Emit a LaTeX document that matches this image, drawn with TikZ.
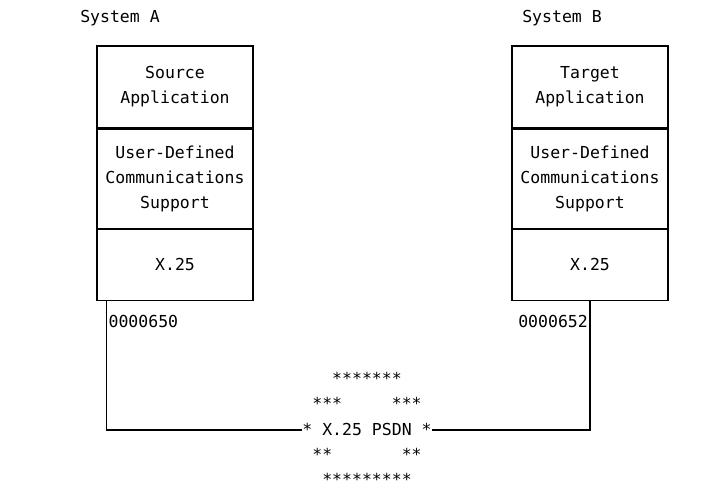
\documentclass[tikz,border=0pt]{standalone}
\usepackage{fontspec}
\setmonofont{DejaVu Sans Mono}
\usetikzlibrary{positioning}
\tikzstyle{layer}=[draw,line width=1.2pt,minimum width=156pt,align=center,inner sep=0pt]
\tikzstyle{sysname}=[inner sep=0pt]
\tikzstyle{addr}=[inner sep=2pt]
\tikzstyle{link}=[line width=1.1pt]
\tikzstyle{cloud}=[inner sep=0pt,text height=12pt,text depth=2pt,node distance=11pt]
\newcommand{\bl}{\hphantom{*}}

\begin{document}
\begin{tikzpicture}[x=1pt,y=-1pt,font=\ttfamily\fontsize{16.5}{25}\selectfont]
\useasboundingbox (0,0) rectangle (703,490);
% system A
\node[layer,minimum height=82pt] (srcA) at (175,87) {Source\\Application};
\node[layer,minimum height=99pt,below=0pt of srcA] (udcA) {User-Defined\\Communications\\Support};
\node[layer,minimum height=71pt,below=0pt of udcA] (xA) {X.25};
\node[sysname] (sysA) at (120,18) {System A};
% system B
\node[layer,minimum height=82pt] (tgtB) at (590,87) {Target\\Application};
\node[layer,minimum height=99pt,below=0pt of tgtB] (udcB) {User-Defined\\Communications\\Support};
\node[layer,minimum height=71pt,below=0pt of udcB] (xB) {X.25};
\node[sysname] (sysB) at (562,18) {System B};
% the network
\node[cloud] (psdn) at (367,430) {* X.25 PSDN *};
\node[cloud,above=of psdn] (r2) {\bl***\bl\bl\bl\bl\bl***\bl};
\node[cloud,above=of r2] (r1) {\bl\bl\bl*******\bl\bl\bl};
\node[cloud,below=of psdn] (r4) {\bl**\bl\bl\bl\bl\bl\bl\bl**\bl};
\node[cloud,below=of r4] (r5) {\bl\bl*********\bl\bl};
% links
\coordinate (pA) at ([xshift=10pt]xA.south west);
\coordinate (pB) at (xB.south);
\node[addr,anchor=north west] (adA) at ([yshift=-12pt]pA) {0000650};
\node[addr,anchor=north east] (adB) at ([yshift=-12pt]pB) {0000652};
\draw[link] (pA) |- (psdn.west);
\draw[link] (pB) |- (psdn.east);
\end{tikzpicture}
\end{document}
